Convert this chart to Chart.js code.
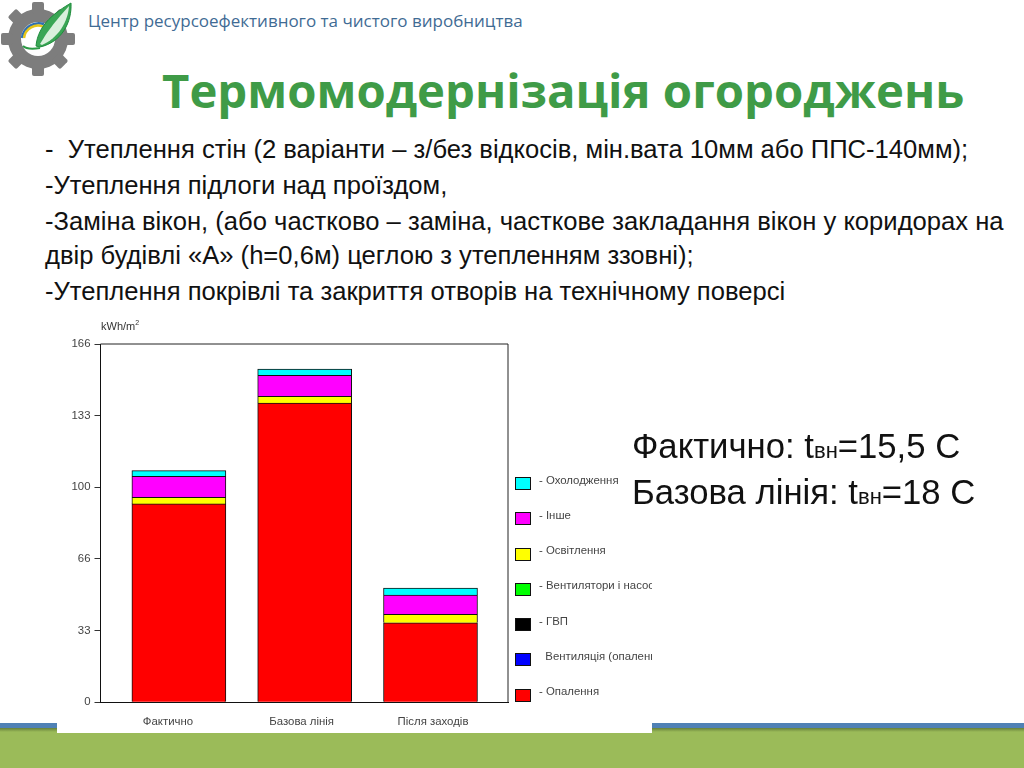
<!DOCTYPE html>
<html lang="uk">
<head>
<meta charset="utf-8">
<title>Термомодернізація огороджень</title>
<script src="https://cdn.jsdelivr.net/npm/chart.js@4"></script>
<style>
  html, body { margin: 0; padding: 0; background: #fff; }
  body { width: 1024px; height: 768px; position: relative; overflow: hidden; font-family: "Liberation Sans", sans-serif; }
  .abs { position: absolute; white-space: nowrap; }
  #logo { left: 0; top: 0; }
  #org { left: 88px; top: 9px; font: 17px "Open Sans", sans-serif; color: #3f6b94; }
  #title { left: 162px; top: 57px; font: bold 47.3px "Open Sans", sans-serif; color: #3f9b47; }
  .line { left: 45px; font-size: 25.6px; line-height: 26px; color: #111; }
  .note { left: 632px; font-size: 34.7px; line-height: 34px; color: #111; z-index: 2; }
  .note small { font-size: 22px; }
  #band { left: 0; top: 723px; width: 1024px; height: 5px; background: #4f81b5; }
  #shade { left: 0; top: 728px; width: 1024px; height: 4px; background: linear-gradient(#66803a, #9bbb59); }
  #foot { left: 0; top: 732px; width: 1024px; height: 36px; background: #9bbb59; }
  #panel { left: 57px; top: 318px; width: 595px; height: 415px; background: #fff; overflow: hidden; filter: blur(0.35px); }
  #wrap { position: absolute; left: 0; top: 0; width: 595px; height: 415px; }
  #unit { left: 44px; top: 1px; font-size: 11px; color: #333; }
  #unit sup { font-size: 7px; }
  #legend { position: absolute; left: 458px; top: 159px; width: 137px; }
  .item { height: 35.3px; position: relative; font-size: 11.4px; color: #444; white-space: nowrap; }
  .item i { position: absolute; left: 0; top: 0; width: 14px; height: 11px; border: 1px solid #111; }
  .item span { position: absolute; left: 24px; top: -3.5px; }
</style>
</head>
<body>
<svg id="logo" class="abs" width="80" height="80" viewBox="0 0 80 80">
  <g fill="#7d7d7d">
    <circle cx="38" cy="39" r="30"/>
    <g id="teeth">
      <rect x="32" y="2" width="12" height="12" rx="2"/>
      <rect x="32" y="64" width="12" height="12" rx="2"/>
      <rect x="1" y="33" width="12" height="12" rx="2"/>
      <rect x="63" y="33" width="12" height="12" rx="2"/>
      <rect x="32" y="2" width="12" height="12" rx="2" transform="rotate(45 38 39)"/>
      <rect x="32" y="64" width="12" height="12" rx="2" transform="rotate(45 38 39)"/>
      <rect x="1" y="33" width="12" height="12" rx="2" transform="rotate(45 38 39)"/>
      <rect x="63" y="33" width="12" height="12" rx="2" transform="rotate(45 38 39)"/>
    </g>
  </g>
  <circle cx="38" cy="39" r="17" fill="#fff"/>
  <path d="M22 38 A17 17 0 0 1 44 24" fill="none" stroke="#2f6fb0" stroke-width="2.5"/>
  <path d="M24 38 A14 14 0 0 1 44 27" fill="none" stroke="#e6c619" stroke-width="2.5"/>
  <path d="M36 46 C38 24 56 12 71 3 C72 22 62 42 40 47 Z" fill="#3aa655" stroke="#1e8c3c" stroke-width="1"/>
  <path d="M40 44 C48 30 58 18 69 6 C68 22 58 38 42 45 Z" fill="#d9f0dc"/>
  <path d="M23 46 Q27 50 40 48" fill="none" stroke="#2c9a45" stroke-width="2"/>
</svg>

<div id="org" class="abs">Центр ресурсоефективного та чистого виробництва</div>
<div id="title" class="abs">Термомодернізація огороджень</div>

<div class="abs line" style="top:136px">-&nbsp; Утеплення стін (2 варіанти – з/без відкосів, мін.вата 10мм або ППС-140мм);</div>
<div class="abs line" style="top:172px">-Утеплення підлоги над проїздом,</div>
<div class="abs line" style="top:208px">-Заміна вікон, (або частково – заміна, часткове закладання вікон у коридорах на</div>
<div class="abs line" style="top:242px">двір будівлі «А» (h=0,6м) цеглою з утепленням ззовні);</div>
<div class="abs line" style="top:278px">-Утеплення покрівлі та закриття отворів на технічному поверсі</div>

<div class="abs note" style="top:429px">Фактично: t<small>вн</small>=15,5 С</div>
<div class="abs note" style="top:475px">Базова лінія: t<small>вн</small>=18 С</div>

<div id="band" class="abs"></div>
<div id="shade" class="abs"></div>
<div id="foot" class="abs"></div>

<div id="panel" class="abs">
  <div id="wrap"><canvas id="energyChart"></canvas></div>
  <div id="unit" class="abs">kWh/m<sup>2</sup></div>
  <div id="legend"></div>
</div>

<script>
  const categories = ["Фактично", "Базова лінія", "Після заходів"];
  const barPositions = [1, 2, 3];
  const labelPositions = [0.913, 1.976, 3.02];

  const heating = [91.9, 138.6, 36.8];
  const ventHeating = [0, 0, 0];
  const hotWater = [0, 0, 0];
  const fans = [0, 0, 0];
  const lighting = [3.1, 3.2, 3.9];
  const other = [9.7, 9.7, 9.0];
  const cooling = [2.6, 2.9, 3.2];

  const seriesNames = ["- Опалення", "  Вентиляція (опалення)", "- ГВП", "- Вентилятори і насоси", "- Освітлення", "- Інше", "- Охолодження"];
  const seriesColors = ["#ff0000", "#0000ff", "#000000", "#00ff00", "#ffff00", "#ff00ff", "#00ffff"];
  const seriesValues = [heating, ventHeating, hotWater, fans, lighting, other, cooling];

  // Custom legend, top item is the top of the stack
  let legendHTML = "";
  seriesNames.slice().reverse().forEach((name, i) => {
    const color = seriesColors[seriesColors.length - 1 - i];
    legendHTML += `<div class="item"><i style="background:${color}"></i><span style="white-space:pre">${name}</span></div>`;
  });
  document.getElementById('legend').innerHTML = legendHTML;

  // Frame on top and right of the plot
  const framePlugin = {
    id: 'frame',
    afterDatasetsDraw(chart) {
      const a = chart.chartArea, c = chart.ctx;
      c.save();
      c.strokeStyle = '#222';
      c.lineWidth = 1;
      c.beginPath();
      c.moveTo(a.left, a.top);
      c.lineTo(a.right, a.top);
      c.lineTo(a.right, a.bottom);
      c.stroke();
      c.restore();
    }
  };

  new Chart(document.getElementById('energyChart').getContext('2d'), {
    type: 'bar',
    plugins: [framePlugin],
    data: {
      labels: barPositions,
      datasets: seriesNames.map((name, i) => ({
        label: name,
        data: seriesValues[i],
        backgroundColor: seriesColors[i],
        borderColor: '#111',
        borderWidth: 1,
        barThickness: 94
      }))
    },
    options: {
      responsive: true,
      maintainAspectRatio: false,
      animation: false,
      layout: { padding: { top: 26, right: 144, left: 0, bottom: 0 } },
      plugins: {
        legend: { display: false },
        tooltip: { enabled: false }
      },
      scales: {
        x: {
          type: 'linear',
          stacked: true,
          offset: false,
          min: 0.377,
          max: 3.616,
          afterBuildTicks: axis => { axis.ticks = labelPositions.map(v => ({ value: v })); },
          afterFit: axis => { axis.height = 30.7; },
          border: { color: '#111' },
          grid: { display: false, offset: false },
          ticks: {
            autoSkip: false,
            maxRotation: 0,
            padding: 5,
            color: '#444',
            font: { family: 'Liberation Sans', size: 11.4 },
            callback: (v, i) => categories[i]
          }
        },
        y: {
          stacked: true,
          min: 0,
          max: 166,
          afterFit: axis => { axis.width = 43.5; },
          border: { color: '#111' },
          grid: { drawOnChartArea: false, tickLength: 6, tickColor: '#333' },
          ticks: {
            stepSize: 33.2,
            padding: 4,
            color: '#444',
            font: { family: 'Liberation Sans', size: 11.4 },
            callback: v => Math.round(v)
          }
        }
      }
    }
  });
</script>
</body>
</html>
